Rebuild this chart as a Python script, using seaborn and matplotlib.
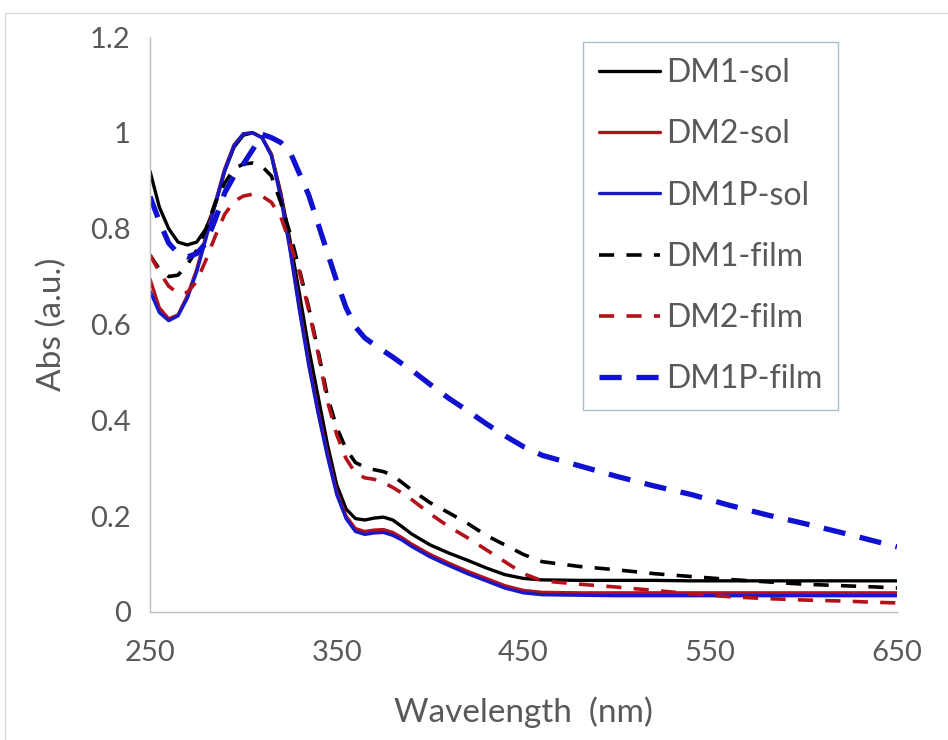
import matplotlib
matplotlib.use("Agg")
import matplotlib.pyplot as plt
import seaborn as sns
import pandas as pd
from matplotlib.patches import Rectangle

wavelength = [250, 255, 260, 265, 270, 275, 280, 285, 290, 295, 300, 305, 310, 315,
              320, 325, 330, 335, 340, 345, 350, 355, 360, 365, 370, 375, 380, 385,
              390, 400, 410, 420, 430, 440, 450, 460, 480, 500, 520, 540, 560, 580,
              600, 620, 640, 650]

dm1_sol = [0.92, 0.845, 0.80, 0.772, 0.766, 0.772, 0.80, 0.85, 0.92, 0.97, 0.995, 1.0,
           0.99, 0.955, 0.875, 0.775, 0.665, 0.55, 0.45, 0.35, 0.265, 0.215, 0.195,
           0.192, 0.196, 0.198, 0.192, 0.178, 0.163, 0.14, 0.123, 0.108, 0.092, 0.078,
           0.07, 0.067, 0.066, 0.066, 0.066, 0.065, 0.065, 0.065, 0.065, 0.065, 0.065,
           0.065]

dm2_sol = [0.695, 0.635, 0.612, 0.62, 0.66, 0.715, 0.785, 0.855, 0.925, 0.975, 0.998,
           1.0, 0.99, 0.955, 0.87, 0.76, 0.635, 0.52, 0.42, 0.33, 0.25, 0.2, 0.174,
           0.168, 0.171, 0.172, 0.166, 0.155, 0.142, 0.12, 0.102, 0.085, 0.07, 0.055,
           0.045, 0.041, 0.04, 0.04, 0.04, 0.04, 0.04, 0.04, 0.04, 0.04, 0.04, 0.04]

dm1p_sol = [0.67, 0.625, 0.608, 0.618, 0.655, 0.71, 0.78, 0.852, 0.922, 0.973, 0.998,
            1.0, 0.99, 0.952, 0.865, 0.755, 0.63, 0.515, 0.415, 0.325, 0.245, 0.195,
            0.168, 0.162, 0.165, 0.166, 0.16, 0.15, 0.137, 0.115, 0.097, 0.08, 0.065,
            0.05, 0.04, 0.036, 0.035, 0.034, 0.034, 0.034, 0.034, 0.034, 0.034, 0.034,
            0.034, 0.034]

dm1_film = [0.745, 0.715, 0.70, 0.703, 0.725, 0.755, 0.80, 0.855, 0.895, 0.925, 0.935,
            0.937, 0.93, 0.91, 0.855, 0.79, 0.715, 0.635, 0.545, 0.45, 0.385, 0.34,
            0.312, 0.302, 0.297, 0.293, 0.285, 0.27, 0.255, 0.228, 0.207, 0.185, 0.16,
            0.14, 0.12, 0.105, 0.095, 0.088, 0.08, 0.074, 0.068, 0.063, 0.058, 0.055,
            0.052, 0.05]

dm2_film = [0.745, 0.71, 0.68, 0.665, 0.667, 0.69, 0.735, 0.785, 0.83, 0.857, 0.868,
            0.872, 0.868, 0.855, 0.825, 0.77, 0.71, 0.63, 0.54, 0.44, 0.37, 0.32, 0.29,
            0.28, 0.277, 0.27, 0.26, 0.248, 0.235, 0.205, 0.178, 0.155, 0.13, 0.105,
            0.08, 0.065, 0.058, 0.052, 0.045, 0.038, 0.032, 0.028, 0.025, 0.023, 0.02,
            0.019]

dm1p_film = [0.867, 0.815, 0.77, 0.748, 0.741, 0.748, 0.77, 0.82, 0.875, 0.91, 0.935,
             0.965, 0.997, 0.99, 0.98, 0.96, 0.915, 0.87, 0.81, 0.75, 0.69, 0.635, 0.595,
             0.572, 0.558, 0.545, 0.532, 0.518, 0.505, 0.475, 0.446, 0.42, 0.393, 0.368,
             0.345, 0.327, 0.305, 0.283, 0.263, 0.245, 0.223, 0.203, 0.185, 0.166, 0.146,
             0.136]

labels = ["DM1-sol", "DM2-sol", "DM1P-sol", "DM1-film", "DM2-film", "DM1P-film"]
series = [dm1_sol, dm2_sol, dm1p_sol, dm1_film, dm2_film, dm1p_film]

x_ticks = list(range(250, 651, 20))
x_labeled = [250, 350, 450, 550, 650]
y_ticks = [0, 0.2, 0.4, 0.6, 0.8, 1.0, 1.2]
y_tick_labels = ["0", "0.2", "0.4", "0.6", "0.8", "1", "1.2"]

sns.set_theme(style="white")
plt.rcParams["font.family"] = ["Lato", "DejaVu Sans"]

text_col = "#595959"
axis_col = "#bfbfbf"

fig = plt.figure(figsize=(9.48, 7.4), dpi=100)
ax = fig.add_axes([150 / 948, 1 - 612 / 740, (897 - 150) / 948, (612 - 37) / 740])

colors = ["#000000", "#b3121a", "#1818c8", "#000000", "#b3121a", "#1010d0"]
widths = [2.4, 2.4, 2.4, 2.6, 2.6, 3.8]
styles = ["-", "-", "-", (0, (4.2, 3.4)), (0, (4.2, 3.4)), (0, (4.2, 2.8))]

for lab, vals, c, lw, ls in zip(labels, series, colors, widths, styles):
    df = pd.DataFrame({"wl": wavelength, "abs": vals})
    sns.lineplot(data=df, x="wl", y="abs", ax=ax, color=c, linewidth=lw,
                 linestyle=ls, label=lab, sort=False, errorbar=None)

ax.set_xlim(250, 650)
ax.set_ylim(0, 1.2)
ax.set_xticks(x_ticks)
ax.set_xticklabels([str(t) if t in x_labeled else "" for t in x_ticks])
ax.set_yticks(y_ticks)
ax.set_yticklabels(y_tick_labels)

for s in ["top", "right"]:
    ax.spines[s].set_visible(False)
for s in ["left", "bottom"]:
    ax.spines[s].set_color(axis_col)
    ax.spines[s].set_linewidth(1.0)

ax.tick_params(axis="both", which="major", direction="out", length=6, width=1,
               color=axis_col, labelcolor=text_col, labelsize=21, pad=8)
ax.tick_params(axis="x", pad=14)
ax.set_xlabel("Wavelength  (nm)", fontsize=24, color=text_col, labelpad=22)
ax.set_ylabel("Abs (a.u.)", fontsize=24, color=text_col, labelpad=16)

leg = ax.legend(loc="upper left", bbox_to_anchor=((583 - 150) / 747, 1 - (42 - 37) / 575),
                frameon=True, fancybox=False, fontsize=23, handlelength=1.9,
                handletextpad=0.2, labelspacing=0.98, borderpad=0.5,
                borderaxespad=0)
leg.get_frame().set_edgecolor("#8fb0bf")
leg.get_frame().set_linewidth(1.0)
for t in leg.get_texts():
    t.set_color(text_col)

fig.patches.append(Rectangle((5 / 948, -0.1), 1.2, 1.1 - 13 / 740,
                             transform=fig.transFigure, fill=False,
                             edgecolor="#d9d9d9", linewidth=1.0))

fig.savefig("out.png", dpi=100)
